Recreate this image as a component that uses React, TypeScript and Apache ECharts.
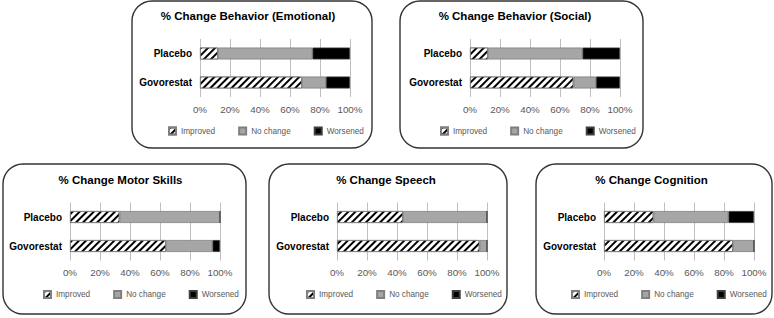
import React, { useEffect, useRef } from 'react';
import * as echarts from 'echarts';

// ---- data ----
const categories = ['Placebo', 'Govorestat'];
const titles = [
  '% Change Behavior (Emotional)',
  '% Change Behavior (Social)',
  '% Change Motor Skills',
  '% Change Speech',
  '% Change Cognition',
];
const seriesNames = ['Improved', 'No change', 'Worsened'];
// each entry: [Placebo, Govorestat]
const improved = [[12, 68], [12, 69], [33, 64], [44, 95], [33, 86]];
const noChange = [[63, 16], [63, 15], [67, 31], [56, 5], [50, 14]];
const worsened = [[25, 16], [25, 16], [0, 5], [0, 0], [17, 0]];

// ---- layout ----
const boxRects = [
  [132, 1, 240, 147],
  [400, 1, 243, 147],
  [3, 164, 243, 150],
  [269, 164, 238, 150],
  [536, 164, 236, 150],
];
const gridLefts = [200, 470, 70, 337, 604];
const gridWidth = 150;
const rowTops = [0, 0, 163.5, 163.5, 163.5];
const titleCenters = [248, 515, 120.5, 386, 651.5];
const legendLefts = [168, 440, 43, 306, 571];

const FONT = 'Liberation Sans, Arial, Helvetica, sans-serif';

export default function App() {
  const ref = useRef<HTMLDivElement>(null);
  useEffect(() => {
    if (!ref.current) return;
    const chart = echarts.init(ref.current, undefined, { renderer: 'svg' });
    const n = titles.length;
    const grids: any[] = [];
    const xAxes: any[] = [];
    const yAxes: any[] = [];
    const series: any[] = [];
    const legends: any[] = [];
    const graphics: any[] = [];

    const hatch = {
      symbol: 'rect',
      symbolSize: 1,
      dashArrayX: [1, 0],
      dashArrayY: [1.5, 2.3],
      rotation: -Math.PI / 4,
      color: '#000',
    };
    const styles = [
      { color: '#ffffff', borderColor: '#7f7f7f', borderWidth: 0.8, decal: hatch },
      { color: '#a6a6a6', borderColor: '#7f7f7f', borderWidth: 0.8 },
      { color: '#000000', borderColor: '#3f3f3f', borderWidth: 0.8 },
    ];
    const dataSets = [improved, noChange, worsened];

    for (let i = 0; i < n; i++) {
      const dy = rowTops[i];
      const [bx, by, bw, bh] = boxRects[i];
      graphics.push({
        type: 'rect',
        shape: { x: bx, y: by, width: bw, height: bh, r: 20 },
        style: { fill: 'none', stroke: '#333333', lineWidth: 1.4 },
        z: 0,
      });
      graphics.push({
        type: 'text',
        x: titleCenters[i],
        y: 16 + dy,
        style: {
          text: titles[i],
          fill: '#000',
          font: `bold 11.5px ${FONT}`,
          textAlign: 'center',
          textVerticalAlign: 'middle',
          align: 'center',
          verticalAlign: 'middle',
        },
      });
      grids.push({
        left: gridLefts[i],
        width: gridWidth,
        top: 39 + dy,
        height: 58,
        containLabel: false,
      });
      xAxes.push({
        type: 'value',
        gridIndex: i,
        min: 0,
        max: 100,
        interval: 20,
        axisLine: { show: false },
        axisTick: { show: false },
        splitLine: { show: true, lineStyle: { color: '#bfbfbf', width: 1 } },
        axisLabel: {
          formatter: '{value}%',
          fontSize: 9.8,
          color: '#595959',
          fontFamily: FONT,
          margin: 7,
        },
      });
      yAxes.push({
        type: 'category',
        gridIndex: i,
        data: categories,
        inverse: true,
        axisLine: { show: false },
        axisTick: { show: false },
        axisLabel: {
          fontSize: 10,
          fontWeight: 'bold',
          color: '#000',
          fontFamily: FONT,
          margin: 8,
        },
      });
      for (let k = 0; k < 3; k++) {
        series.push({
          type: 'bar',
          name: seriesNames[k],
          stack: 'p' + i,
          xAxisIndex: i,
          yAxisIndex: i,
          barWidth: 12,
          data: dataSets[k][i],
          itemStyle: styles[k],
        });
      }
      legends.push({
        data: seriesNames,
        left: legendLefts[i],
        top: 126.5 + dy,
        padding: 0,
        itemWidth: 7,
        itemHeight: 7,
        itemGap: 23,
        icon: 'rect',
        selectedMode: false,
        textStyle: { fontSize: 8.2, color: '#595959', fontFamily: FONT },
      });
    }

    chart.setOption({
      animation: false,
      backgroundColor: '#ffffff',
      grid: grids,
      xAxis: xAxes,
      yAxis: yAxes,
      series,
      legend: legends,
      graphic: graphics,
    });
    return () => chart.dispose();
  }, []);
  return (
    <div
      ref={ref}
      style={{ position: 'absolute', left: 0, top: 0, width: 774, height: 318 }}
    />
  );
}
